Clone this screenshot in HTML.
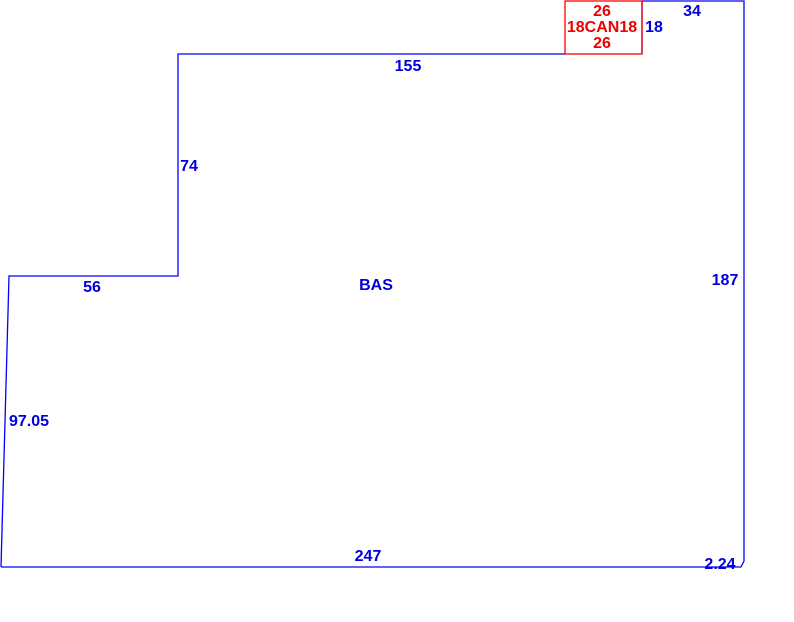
<!DOCTYPE html>
<html><head><style>
body{margin:0;background:#fff;width:794px;height:617px;overflow:hidden}
svg text{font-family:"Liberation Sans",Arial,sans-serif;font-weight:bold;font-size:16px}
</style></head><body>
<svg width="794" height="617" xmlns="http://www.w3.org/2000/svg">
<polyline points="1,567 9,276 178,276 178,54 565,54" fill="none" stroke="#0000ff" stroke-width="1.3"/>
<polyline points="642,54 642,1 744,1 744,561 741,567 1,567" fill="none" stroke="#0000ff" stroke-width="1.3"/>
<rect x="565" y="1" width="77" height="53" fill="none" stroke="#ff0000" stroke-width="1.3"/>
<g fill="#0000dd" text-anchor="middle">
<text x="408" y="71">155</text>
<text x="189" y="171">74</text>
<text x="92" y="292">56</text>
<text x="376" y="290">BAS</text>
<text x="29" y="426">97.05</text>
<text x="368" y="561">247</text>
<text x="720" y="569">2.24</text>
<text x="725" y="285">187</text>
<text x="692" y="16">34</text>
<text x="654" y="32">18</text>
</g>
<g fill="#ee0000" text-anchor="middle">
<text x="602" y="16">26</text>
<text x="602" y="32">18CAN18</text>
<text x="602" y="48">26</text>
</g>
</svg>
</body></html>
